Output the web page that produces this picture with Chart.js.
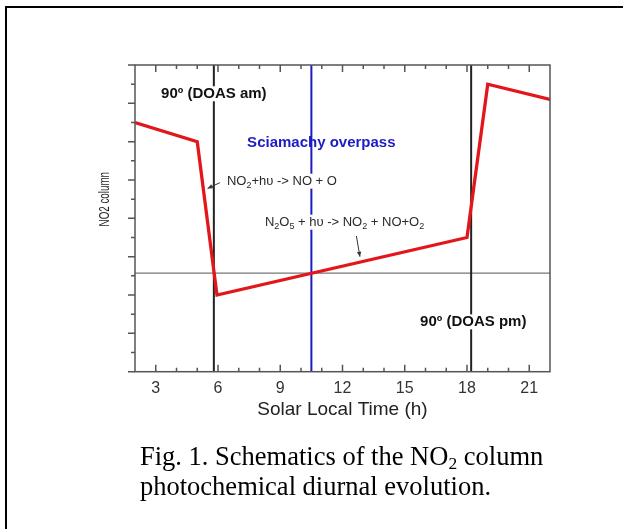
<!DOCTYPE html>
<html>
<head>
<meta charset="utf-8">
<script src="https://cdn.jsdelivr.net/npm/chart.js@4.4.1/dist/chart.umd.min.js"></script>
<style>
html, body { margin: 0; padding: 0; background: #fff; }
#wrap { position: relative; width: 623px; height: 529px; overflow: hidden; background: #fff; }
#frame { position: absolute; left: 5px; top: 6px; width: 700px; height: 600px; border: 2px solid #000; }
#chart { position: absolute; left: 0; top: 0; }
#cap { position: absolute; left: 140px; top: 441px; font-family: "Liberation Serif", "Times New Roman", serif;
       font-size: 26.5px; line-height: 30px; color: #000; white-space: nowrap; }
#cap sub { font-size: 0.66em; vertical-align: -0.22em; line-height: 0; }
</style>
</head>
<body>
<div id="wrap">
  <div id="frame"></div>
  <canvas id="chart" width="623" height="529" style="width:623px;height:529px"></canvas>
  <div id="cap">Fig. 1. Schematics of the NO<sub>2</sub> column<br>photochemical diurnal evolution.</div>
</div>
<script>
// ---- data ----
const hourTicks = [3, 6, 9, 12, 15, 18, 21];            // x tick labels (h)
const redTimes  = [2, 5, 5.95, 18, 19, 22];             // solar local time (h)
const redValues = [6.5, 6.0, 2.0, 3.5, 7.5, 7.1];       // NO2 column (arbitrary units)
const sunTimes  = [5.8, 18.2];                          // 90° SZA (DOAS am / pm)
const overpassTime = [10.5];                            // Sciamachy overpass
const overpassLevel = [2.57];                           // NO2 at overpass
const xRange = [2, 22];
const yRange = [0, 8];

const FONT = '"Liberation Sans", Arial, sans-serif';

function vline(t) { return [{ x: t, y: yRange[0] }, { x: t, y: yRange[1] }]; }

const datasets = [
  { data: redTimes.map((t, i) => ({ x: t, y: redValues[i] })), borderColor: '#e3161b', borderWidth: 3.3,
    borderJoinStyle: 'miter', pointRadius: 0, tension: 0 },
  { data: vline(overpassTime[0]), borderColor: '#1c1cc4', borderWidth: 2, pointRadius: 0 },
  ...sunTimes.map(t => ({ data: vline(t), borderColor: '#222', borderWidth: 2, pointRadius: 0 })),
  { data: [{ x: xRange[0], y: overpassLevel[0] }, { x: xRange[1], y: overpassLevel[0] }],
    borderColor: '#777', borderWidth: 1.2, pointRadius: 0 }
];

function drawRich(ctx, segs, x, yMid, align, size, bold, color, bg) {
  const f = (s) => (bold ? 'bold ' : '') + s + 'px ' + FONT;
  const subSize = Math.round(size * 0.68);
  let total = 0;
  const widths = segs.map(s => { ctx.font = f(s.sub ? subSize : size); const w = ctx.measureText(s.t).width; total += w; return w; });
  let sx = align === 'center' ? x - total / 2 : x;
  if (bg) { ctx.fillStyle = '#fff'; ctx.fillRect(sx - 2, yMid - 7.5, total + 4, 15); }
  ctx.fillStyle = color; ctx.textAlign = 'left'; ctx.textBaseline = 'middle';
  segs.forEach((s, i) => {
    ctx.font = f(s.sub ? subSize : size);
    ctx.fillText(s.t, sx, s.sub ? yMid + 4 : yMid);
    sx += widths[i];
  });
}

function arrow(ctx, x1, y1, x2, y2) {
  ctx.strokeStyle = '#333'; ctx.fillStyle = '#333'; ctx.lineWidth = 1;
  ctx.beginPath(); ctx.moveTo(x1, y1); ctx.lineTo(x2, y2); ctx.stroke();
  const a = Math.atan2(y2 - y1, x2 - x1), L = 5, W = 2.2;
  ctx.beginPath();
  ctx.moveTo(x2, y2);
  ctx.lineTo(x2 - L * Math.cos(a) + W * Math.sin(a), y2 - L * Math.sin(a) - W * Math.cos(a));
  ctx.lineTo(x2 - L * Math.cos(a) - W * Math.sin(a), y2 - L * Math.sin(a) + W * Math.cos(a));
  ctx.closePath(); ctx.fill();
}

const decor = {
  id: 'decor',
  afterDatasetsDraw(chart) {
    const { ctx, chartArea: a, scales: { x, y } } = chart;
    ctx.save();
    // frame
    ctx.strokeStyle = '#555'; ctx.lineWidth = 1.5;
    ctx.strokeRect(a.left, a.top, a.right - a.left, a.bottom - a.top);
    // x ticks (inward, bottom and top)
    ctx.beginPath();
    for (let h = Math.ceil(x.min); h <= x.max; h++) {
      if (h === x.min || h === x.max) continue;
      const px = x.getPixelForValue(h);
      const len = hourTicks.includes(h) ? 7 : 4;
      ctx.moveTo(px, a.bottom); ctx.lineTo(px, a.bottom - len);
      ctx.moveTo(px, a.top); ctx.lineTo(px, a.top + len);
    }
    // y ticks (outward, left)
    for (let v = y.min; v <= y.max + 1e-9; v += 0.5) {
      const py = y.getPixelForValue(v);
      const len = Math.abs(v - Math.round(v)) < 1e-9 ? 7 : 4;
      ctx.moveTo(a.left - len, py); ctx.lineTo(a.left, py);
    }
    ctx.stroke();

    // annotations
    drawRich(ctx, [{ t: '90º (DOAS am)' }], x.getPixelForValue(sunTimes[0]), y.getPixelForValue(7.25), 'center', 15, true, '#111', true);
    drawRich(ctx, [{ t: '90º (DOAS pm)' }], x.getPixelForValue(18.3), y.getPixelForValue(1.3), 'center', 15, true, '#111', true);
    drawRich(ctx, [{ t: 'Sciamachy overpass' }], x.getPixelForValue(10.98), y.getPixelForValue(5.96), 'center', 15, true, '#1c1cc4', false);
    drawRich(ctx, [{ t: 'NO' }, { t: '2', sub: true }, { t: '+hυ -> NO + O' }],
      x.getPixelForValue(6.43), y.getPixelForValue(4.97), 'left', 13, false, '#2a2a2a', true);
    drawRich(ctx, [{ t: 'N' }, { t: '2', sub: true }, { t: 'O' }, { t: '5', sub: true }, { t: ' + hυ -> NO' }, { t: '2', sub: true },
      { t: ' + NO+O' }, { t: '2', sub: true }],
      x.getPixelForValue(8.26), y.getPixelForValue(3.9), 'left', 13, false, '#2a2a2a', true);
    arrow(ctx, x.getPixelForValue(6.09), y.getPixelForValue(4.93), x.getPixelForValue(5.5), y.getPixelForValue(4.78));
    arrow(ctx, x.getPixelForValue(12.67), y.getPixelForValue(3.54), x.getPixelForValue(12.84), y.getPixelForValue(3.0));

    // y-axis title
    ctx.save();
    ctx.translate(a.left - 30, y.getPixelForValue(4.5));
    ctx.rotate(-Math.PI / 2);
    ctx.scale(0.7, 1);
    ctx.font = '14px ' + FONT; ctx.fillStyle = '#222'; ctx.textAlign = 'center'; ctx.textBaseline = 'middle';
    ctx.fillText('NO2 column', 0, 0);
    ctx.restore();
    ctx.restore();
  }
};

new Chart(document.getElementById('chart'), {
  type: 'line',
  data: { datasets },
  options: {
    responsive: false,
    animation: false,
    devicePixelRatio: 1,
    layout: { padding: { left: 90, top: 65, right: 73, bottom: 99 } },
    plugins: { legend: { display: false }, tooltip: { enabled: false }, title: { display: false } },
    scales: {
      x: {
        type: 'linear', min: xRange[0], max: xRange[1],
        afterBuildTicks: s => { s.ticks = hourTicks.map(v => ({ value: v })); },
        afterFit: s => { s.height = 58.3; },
        grid: { display: false, drawTicks: false },
        border: { display: false },
        ticks: { padding: 7, color: '#333', font: { family: FONT, size: 16 }, maxRotation: 0 },
        title: { display: true, text: 'Solar Local Time (h)', color: '#222', font: { family: FONT, size: 19 },
                 padding: { top: 0, bottom: 8.6 } }
      },
      y: {
        type: 'linear', min: yRange[0], max: yRange[1],
        afterFit: s => { s.width = 45; },
        grid: { display: false, drawTicks: false },
        border: { display: false },
        ticks: { display: false }
      }
    }
  },
  plugins: [decor]
});
</script>
</body>
</html>
